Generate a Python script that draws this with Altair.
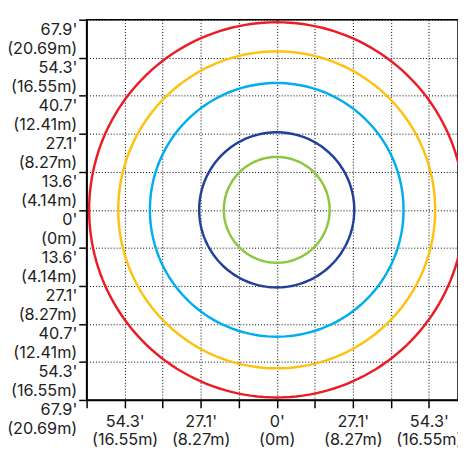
import json
import numpy as np
import pandas as pd
import altair as alt

# ---- data ----
step = 13.58
tick_index = list(range(-5, 6))
ft_labels = ["0'", "13.6'", "27.1'", "40.7'", "54.3'", "67.9'"]
m_labels = ["(0m)", "(4.14m)", "(8.27m)", "(12.41m)", "(16.55m)", "(20.69m)"]

ring_names = ["red", "yellow", "blue", "navy", "green"]
ring_radius_ft = [67.0, 56.6, 45.3, 27.7, 18.9]
ring_colors = ["#ec1c24", "#fdc20f", "#00aeef", "#21409a", "#8dc63f"]

angles = list(range(0, 361, 2))

rows = []
for name, r in zip(ring_names, ring_radius_ft):
    for i, a in enumerate(angles):
        t = np.radians(a)
        rows.append({"ring": name, "order": i,
                     "x": r * np.cos(t), "y": r * np.sin(t)})
df = pd.DataFrame(rows)

lim = 5 * step
full_px = 387                 # pixel size of the full square plot
plot_w = 378                  # visible part of it inside the window
x_max = -lim + plot_w * (2 * lim / full_px)

y_values = [k * step for k in tick_index]
x_values = [v for v in y_values if v <= x_max]

ft_js = json.dumps(ft_labels)
m_js = json.dumps(m_labels)
idx = "abs(round(datum.value/13.58))"
y_label = f"[{ft_js}[{idx}], {m_js}[{idx}]]"
x_label = f"({idx} % 2 == 0 && {idx} < 5) ? [{ft_js}[{idx}], {m_js}[{idx}]] : ''"

FONT = "Inter"
FS = 16.5
LH = 19.4

common = dict(title=None, grid=True, gridColor="#000", gridDash=[1, 2], gridWidth=1,
              gridOpacity=1, domainColor="#000", domainWidth=1.5,
              tickColor="#000", tickWidth=1.5, tickSize=8,
              labelFont=FONT, labelFontSize=FS, labelColor="#222",
              labelFlush=False, labelOverlap=False)

x_axis = alt.Axis(values=x_values, labelExpr=x_label, labelPadding=6,
                  labelLineHeight=18.5,
                  labelAlign="center", labelBaseline="top", **common)
y_axis = alt.Axis(values=y_values, labelExpr=y_label, labelPadding=2,
                  labelLineHeight=LH,
                  labelAlign="right", labelBaseline="middle", labelOffset=LH / 2, **common)

chart = alt.Chart(df).mark_line(strokeWidth=2.5, clip=True).encode(
    x=alt.X("x:Q", scale=alt.Scale(domain=[-lim, x_max], nice=False, zero=False), axis=x_axis),
    y=alt.Y("y:Q", scale=alt.Scale(domain=[-lim, lim], nice=False, zero=False), axis=y_axis),
    color=alt.Color("ring:N", scale=alt.Scale(domain=ring_names, range=ring_colors), legend=None),
    order="order:Q",
).properties(
    width=plot_w, height=full_px,
    autosize=alt.AutoSizeParams(type="none"),
    padding={"left": 80, "top": 8, "right": 0, "bottom": 47},
).configure_view(stroke="#000", strokeWidth=1.5)

chart.save("out.html", embed_options={"renderer": "svg", "actions": False})
